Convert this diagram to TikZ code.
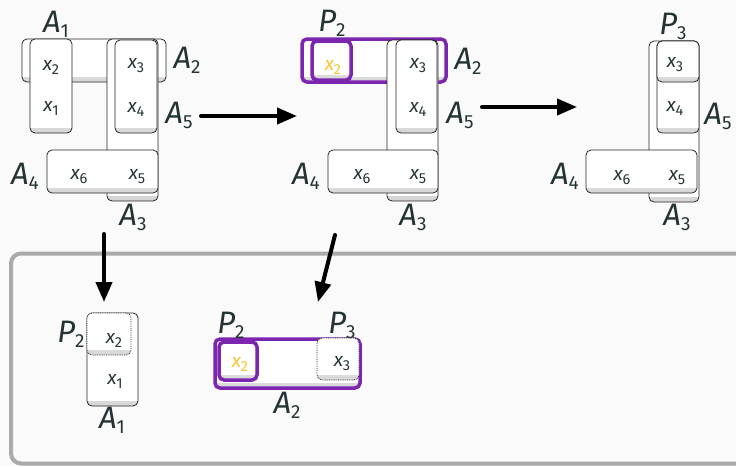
\documentclass[tikz,border=0pt]{standalone}
\usepackage{fontspec}
\setmainfont{Fira Sans}
\usetikzlibrary{arrows.meta,fit}

\definecolor{bgc}{RGB}{250,250,250}
\definecolor{ink}{RGB}{36,52,52}
\definecolor{hlpurple}{RGB}{124,38,176}
\definecolor{hlyellow}{RGB}{250,196,44}
\definecolor{framegray}{RGB}{170,170,170}

% set label (A_i, P_i) and element label (x_i)
\newcommand{\SetLab}[2]{{\fontsize{31}{31}\selectfont\itshape #1}\raisebox{-5pt}{\fontsize{19}{19}\selectfont #2}}
\newcommand{\Elem}[2]{{\fontsize{19}{19}\selectfont\itshape #1}\raisebox{-4pt}{\fontsize{14.5}{14.5}\selectfont #2}}

\tikzset{
  cell/.style={draw=black!85, line width=0.8pt, fill=white, rounded corners=5pt, inner sep=0pt,
    path picture={\shade[sharp corners, top color=white, bottom color=black!16]
      (path picture bounding box.south west) rectangle ([yshift=5pt]path picture bounding box.south east);}},
  hl/.style={cell, draw=hlpurple, line width=3.5pt},
  ghost/.style={cell, densely dotted},
  lab/.style={text=ink, inner sep=0pt},
  elem/.style={text=ink, inner sep=0pt},
  hlelem/.style={text=hlyellow, inner sep=0pt},
  flow/.style={line width=4pt, line cap=round, -{Triangle[length=20pt,width=16pt]}},
  panel/.style={draw=framegray, line width=4pt, rounded corners=10pt, inner sep=0pt},
}

\begin{document}
\begin{tikzpicture}[x=1pt,y=-1pt]
\useasboundingbox (0,0) rectangle (736,466);
\fill[bgc] (0,0) rectangle (736,466);

% ---- first state ----
\node[cell, fit={(22,39) (166,82)}] (la2) {};
\node[cell, fit={(30,39) (72,133)}] (la1) {};
\node[cell, fit={(107,39) (158,201)}] (la3) {};
\node[cell, fit={(115,40) (157,133)}] (la5) {};
\node[cell, fit={(47,150) (158,193)}] (la4) {};
\node[elem] (lx2) at (51,67) {\Elem{x}{2}};
\node[elem] (lx1) at (51,108) {\Elem{x}{1}};
\node[elem] (lx3) at (136,66) {\Elem{x}{3}};
\node[elem] (lx4) at (136,109) {\Elem{x}{4}};
\node[elem] (lx6) at (79,177) {\Elem{x}{6}};
\node[elem] (lx5) at (137,177) {\Elem{x}{5}};
\node[lab] (lA1) at (56,24) {\SetLab{A}{1}};
\node[lab] (lA2) at (187,60) {\SetLab{A}{2}};
\node[lab] (lA5) at (179,115) {\SetLab{A}{5}};
\node[lab] (lA4) at (25,176) {\SetLab{A}{4}};
\node[lab] (lA3) at (133,217) {\SetLab{A}{3}};

% ---- second state ----
\node[hl, fit={(302,39) (446,82)}] (ma2) {};
\node[hl, fit={(312,41) (351,80)}] (mx2box) {};
\node[cell, fit={(387,40) (438,201)}] (ma3) {};
\node[cell, fit={(396,40) (437,133)}] (ma5) {};
\node[cell, fit={(328,150) (438,193)}] (ma4) {};
\node[hlelem] (mx2) at (333,67) {\Elem{x}{2}};
\node[elem] (mx3) at (418,66) {\Elem{x}{3}};
\node[elem] (mx4) at (418,109) {\Elem{x}{4}};
\node[elem] (mx6) at (362,177) {\Elem{x}{6}};
\node[elem] (mx5) at (418,177) {\Elem{x}{5}};
\node[lab] (mP2) at (332,23) {\SetLab{P}{2}};
\node[lab] (mA2) at (468,61) {\SetLab{A}{2}};
\node[lab] (mA5) at (460,115) {\SetLab{A}{5}};
\node[lab] (mA4) at (306,176) {\SetLab{A}{4}};
\node[lab] (mA3) at (413,217) {\SetLab{A}{3}};

% ---- third state ----
\node[cell, fit={(649,41) (699,202)}] (ra3) {};
\node[cell, fit={(657,41) (699,133)}] (ra5) {};
\node[cell, fit={(657,41) (699,82)}] (rp3) {};
\node[cell, fit={(586,150) (697,193)}] (ra4) {};
\node[elem] (rx3) at (675,65) {\Elem{x}{3}};
\node[elem] (rx4) at (675,108) {\Elem{x}{4}};
\node[elem] (rx6) at (622,178) {\Elem{x}{6}};
\node[elem] (rx5) at (677,178) {\Elem{x}{5}};
\node[lab] (rP3) at (673,26) {\SetLab{P}{3}};
\node[lab] (rA5) at (718,116) {\SetLab{A}{5}};
\node[lab] (rA4) at (565,176) {\SetLab{A}{4}};
\node[lab] (rA3) at (677,217) {\SetLab{A}{3}};

% ---- lower panel ----
\node[panel, fit={(11,253.5) (780,463.5)}] (pane) {};

\node[cell, fit={(87,313) (138,406)}] (ba1) {};
\node[ghost, fit={(87,313) (131,355)}] (bp2) {};
\node[elem] (bx2) at (114,340) {\Elem{x}{2}};
\node[elem] (bx1) at (115,381) {\Elem{x}{1}};
\node[lab] (bP2) at (71,334) {\SetLab{P}{2}};
\node[lab] (bA1) at (112,420) {\SetLab{A}{1}};

\node[hl, fit={(215,339) (360,388)}] (ca2) {};
\node[hl, fit={(219,342) (257,380)}] (cp2) {};
\node[ghost, fit={(317,338) (359,380)}] (cp3) {};
\node[hlelem] (cx2) at (240,364) {\Elem{x}{2}};
\node[elem] (cx3) at (342,364) {\Elem{x}{3}};
\node[lab] (cP2) at (231,325) {\SetLab{P}{2}};
\node[lab] (cP3) at (342,325) {\SetLab{P}{3}};
\node[lab] (cA2) at (287,405) {\SetLab{A}{2}};

% ---- arrows ----
\coordinate (f1s) at (201,116);
\coordinate (f1e) at (297,116);
\coordinate (f2s) at (482,107);
\coordinate (f2e) at (577,107);
\coordinate (f3s) at (104,234);
\coordinate (f3e) at (104,302);
\coordinate (f4s) at (335,235);
\coordinate (f4e) at (318,302);
\draw[flow] (f1s) -- (f1e);
\draw[flow] (f2s) -- (f2e);
\draw[flow] (f3s) -- (f3e);
\draw[flow] (f4s) -- (f4e);
\end{tikzpicture}
\end{document}
